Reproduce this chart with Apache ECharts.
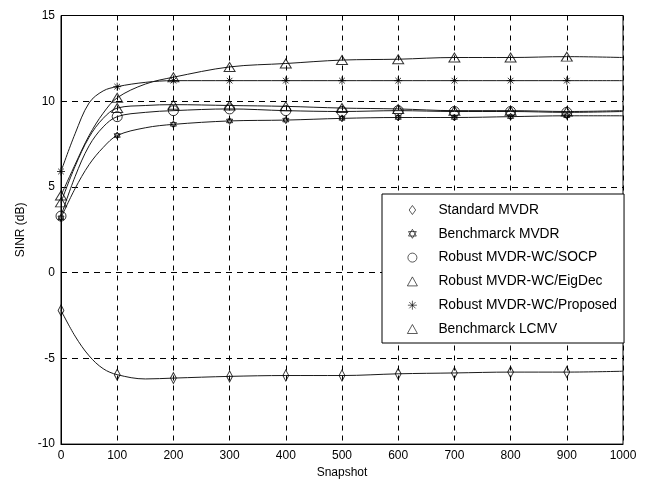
<!DOCTYPE html>
<html>
<head>
<meta charset="utf-8">
<script src="https://cdn.jsdelivr.net/npm/echarts@6/dist/echarts.min.js"></script>
<style>html,body{margin:0;padding:0;background:#fff}#c{width:648px;height:484px}</style>
</head>
<body>
<div id="c"></div>
<script>
// Snapshot positions sampled along each curve
var snapshots = [0, 25, 50, 75, 100, 150, 200, 300, 400, 500, 600, 700, 800, 900, 1000];
var xTicks = [0, 100, 200, 300, 400, 500, 600, 700, 800, 900, 1000];
var yTicks = [-10, -5, 0, 5, 10, 15];
var seriesNames = ['Standard MVDR', 'Benchmarck MVDR', 'Robust MVDR-WC/SOCP', 'Robust MVDR-WC/EigDec', 'Robust MVDR-WC/Proposed', 'Benchmarck LCMV'];
var standardMVDR  = [-2.2, -3.7, -4.85, -5.6, -5.95, -6.2, -6.15, -6.05, -6.0, -6.0, -5.9, -5.85, -5.8, -5.8, -5.75];
var benchMVDR     = [3.2, 4.9, 6.3, 7.3, 8.0, 8.45, 8.65, 8.85, 8.9, 9.0, 9.05, 9.05, 9.1, 9.15, 9.15];
var socp          = [3.3, 5.6, 7.4, 8.5, 9.1, 9.35, 9.45, 9.55, 9.45, 9.4, 9.45, 9.4, 9.4, 9.35, 9.4];
var eigDec        = [4.1, 6.2, 7.9, 9.0, 9.6, 9.75, 9.8, 9.75, 9.7, 9.6, 9.55, 9.45, 9.45, 9.4, 9.45];
var proposed      = [5.9, 8.1, 9.9, 10.6, 10.85, 11.1, 11.2, 11.2, 11.2, 11.2, 11.2, 11.2, 11.2, 11.2, 11.2];
var lcmv          = [4.5, 6.3, 8.0, 9.3, 10.2, 11.0, 11.4, 12.0, 12.2, 12.4, 12.45, 12.55, 12.55, 12.6, 12.55];

var allValues = [standardMVDR, benchMVDR, socp, eigDec, proposed, lcmv];
var symbols = [
  {s: 'path://M4 0 L8 5.5 L4 11 L0 5.5 Z', size: [8, 11]},
  {s: 'path://M5 0 L9.33 7.5 L0.67 7.5 Z M5 10 L0.67 2.5 L9.33 2.5 Z', size: 7},
  {s: 'path://M5 0 A5 5 0 1 1 4.99 0 Z', size: 10},
  {s: 'path://M5 0 L10 9 L0 9 Z', size: [11, 10]},
  {s: 'path://M0 5 L10 5 M5 0 L5 10 M1.5 1.5 L8.5 8.5 M8.5 1.5 L1.5 8.5', size: 8},
  {s: 'path://M5 0 L10 9 L0 9 Z', size: [11, 10]}
];
var font = "'Liberation Sans', Arial, Helvetica, sans-serif";

var series = [];
allValues.forEach(function (vals, i) {
  var pts = snapshots.map(function (x, j) { return [x, vals[j]]; });
  series.push({
    type: 'line', data: pts, smooth: 0.35, showSymbol: false, silent: true,
    lineStyle: {color: '#1a1a1a', width: 1}, z: 3
  });
  var marks = pts.filter(function (p) { return p[0] % 100 === 0 && p[0] <= 900; });
  series.push({
    type: 'scatter', name: seriesNames[i], data: marks,
    symbol: symbols[i].s, symbolSize: symbols[i].size, symbolKeepAspect: true,
    itemStyle: {color: 'rgba(255,255,255,0)', borderColor: '#000', borderWidth: 1}, z: 4
  });
});

var chart = echarts.init(document.getElementById('c'), null, {renderer: 'canvas'});
chart.setOption({
  animation: false,
  backgroundColor: '#fff',
  textStyle: {fontFamily: font},
  grid: {left: 61, right: 25, top: 15.5, bottom: 36, show: true, borderColor: '#000', borderWidth: 1, backgroundColor: 'transparent'},
  xAxis: {
    type: 'value', min: 0, max: 1000, interval: 100,
    name: 'Snapshot', nameLocation: 'middle', nameGap: 22,
    nameTextStyle: {fontSize: 12, color: '#000', fontFamily: font},
    axisLine: {show: true, onZero: false, lineStyle: {color: '#000', width: 1}},
    axisTick: {show: false},
    axisLabel: {fontSize: 12, color: '#000', margin: 6, fontFamily: font,
      formatter: function (v) { return xTicks.indexOf(v) >= 0 ? String(v) : ''; }},
    splitLine: {show: true, lineStyle: {color: '#000', type: [5, 5], width: 1}}
  },
  yAxis: {
    type: 'value', min: -10, max: 15, interval: 5,
    name: 'SINR (dB)', nameLocation: 'middle', nameGap: 33, nameRotate: 90,
    nameTextStyle: {fontSize: 12, color: '#000', fontFamily: font},
    axisLine: {show: true, lineStyle: {color: '#000', width: 1}},
    axisTick: {show: false},
    axisLabel: {fontSize: 12, color: '#000', margin: 6, fontFamily: font,
      formatter: function (v) { return yTicks.indexOf(v) >= 0 ? String(v) : ''; }},
    splitLine: {show: true, lineStyle: {color: '#000', type: [6, 5], width: 1}}
  },
  legend: {
    data: seriesNames,
    orient: 'vertical', left: 382, top: 194,
    itemWidth: 42, itemHeight: 9, itemGap: 9.8,
    symbolKeepAspect: true,
    itemStyle: {borderWidth: 0.8},
    padding: [9, 7, 7, 25],
    backgroundColor: '#fff', borderColor: '#000', borderWidth: 1,
    textStyle: {fontSize: 13.8, color: '#000', fontFamily: font},
    z: 10
  },
  series: series
});
</script>
</body>
</html>
